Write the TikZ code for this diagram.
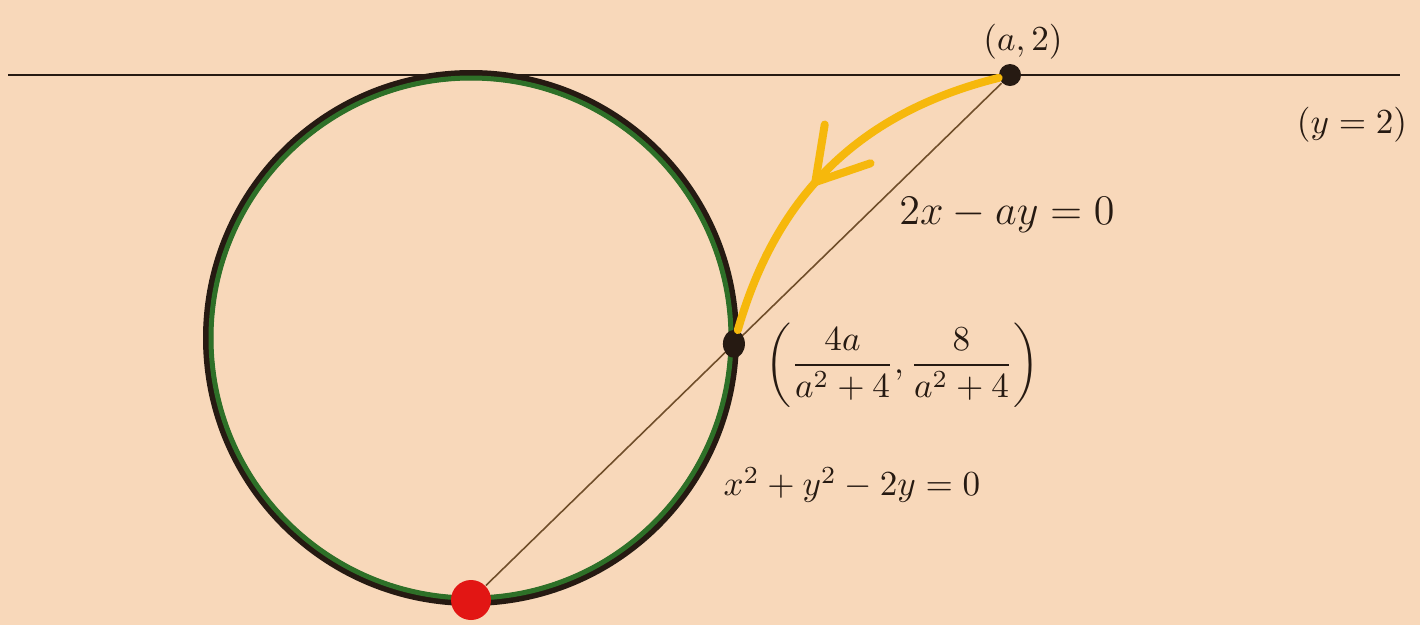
\documentclass[tikz,border=0pt]{standalone}
\usepackage{amsmath,amssymb}
\usepackage{tikz}
\usetikzlibrary{calc,arrows.meta,decorations.markings,shapes.geometric}

\definecolor{paper}{RGB}{248,216,186}
\definecolor{ink}{RGB}{38,26,18}
\definecolor{pencil}{RGB}{112,78,42}
\definecolor{rimgreen}{RGB}{46,112,40}
\definecolor{marker}{RGB}{246,184,12}
\definecolor{dotred}{RGB}{226,22,20}

\begin{document}
\begin{tikzpicture}[
    dot/.style={circle, fill=ink, inner sep=0pt, minimum size=0.22cm},
    reddot/.style={circle, fill=dotred, inner sep=0pt, minimum size=0.40cm},
    label/.style={text=ink, font=\normalsize}
  ]
  \fill[paper] (0,0) rectangle (14.2,6.25);
  \useasboundingbox (0,0) rectangle (14.2,6.25);
  % the line y = 2
  \coordinate (lineL) at (0.08,5.50);
  \coordinate (lineR) at (14.00,5.50);
  \draw[ink, line width=0.7pt] (lineL) -- (lineR);
  % the circle
  \coordinate (C) at (4.71,2.87);
  \draw[ink, line width=0.10cm] (C) circle (2.63);
  \draw[rimgreen, line width=0.05cm] (C) circle (2.60);
  % points
  \node[reddot] (B) at (4.71,0.25) {};
  \node[dot] (A) at (10.10,5.50) {};
  \draw[pencil, line width=0.45pt] (B) -- (A);
  \node[dot, ellipse, minimum width=0.22cm, minimum height=0.28cm] (P) at ($(B.center)!0.4878!(A.center)$) {};
  % the projection arrow
  \draw[marker, line width=0.08cm, line cap=round,
    postaction={decorate},
    decoration={markings, mark=at position 0.58 with {\arrow[marker]{Straight Barb[length=5mm,width=6mm,line cap=round]}}}]
    (A) to[bend right=30] (P);
  % labels
  \node[label] (Alab) at (10.23,5.83) {$(a,2)$};
  \node[label] (linelab) at (13.52,5.00) {$(y=2)$};
  \node[label, font=\large] (raylab) at (10.07,4.10) {$2x-ay=0$};
  \node[label] (Plab) at (9.02,2.60) {$\left(\dfrac{4a}{a^2+4},\dfrac{8}{a^2+4}\right)$};
  \node[label] (circlab) at (8.52,1.40) {$x^2+y^2-2y=0$};
\end{tikzpicture}
\end{document}
